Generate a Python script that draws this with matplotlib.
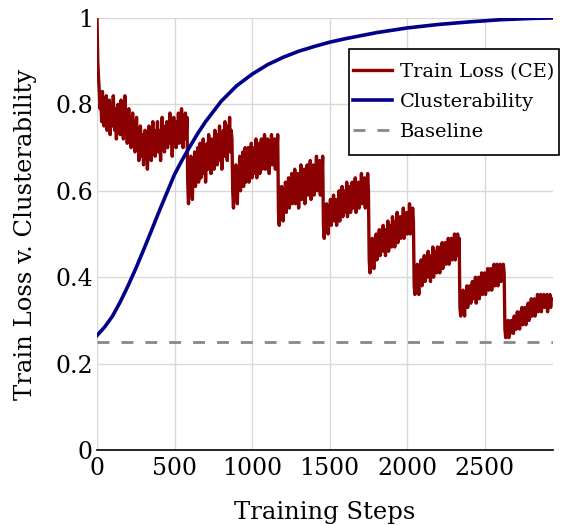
import numpy as np
import matplotlib
matplotlib.use("Agg")
import matplotlib.pyplot as plt

# train loss, one value every 5 steps (one block per epoch)
loss = [
    # epoch 1
    1.00, 0.90, 0.86, 0.83, 0.79, 0.81, 0.76, 0.83, 0.78, 0.75, 0.80, 0.77, 0.82, 0.74, 0.79,
    0.76, 0.81, 0.73, 0.78, 0.80, 0.75, 0.82, 0.77, 0.74, 0.79, 0.72, 0.77, 0.80, 0.75, 0.78,
    0.73, 0.81, 0.76, 0.79, 0.72, 0.77, 0.82, 0.74, 0.78, 0.71, 0.76, 0.79, 0.73, 0.77, 0.70,
    0.75, 0.78, 0.72, 0.76, 0.69, 0.74, 0.77, 0.70, 0.73, 0.67, 0.72, 0.75, 0.69,
    # epoch 2
    0.68, 0.73, 0.66, 0.71, 0.74, 0.68, 0.72, 0.65, 0.70, 0.75, 0.69, 0.73, 0.67, 0.72, 0.76,
    0.70, 0.74, 0.68, 0.73, 0.71, 0.76, 0.69, 0.74, 0.72, 0.67, 0.73, 0.77, 0.71, 0.75, 0.69,
    0.74, 0.72, 0.76, 0.70, 0.75, 0.73, 0.78, 0.71, 0.75, 0.68, 0.74, 0.77, 0.72, 0.75, 0.70,
    0.76, 0.73, 0.78, 0.71, 0.75, 0.72, 0.79, 0.74, 0.70, 0.76, 0.73, 0.78, 0.72, 0.77,
    # epoch 3
    0.62, 0.57, 0.65, 0.60, 0.68, 0.62, 0.58, 0.66, 0.63, 0.69, 0.61, 0.67, 0.64, 0.70, 0.62,
    0.66, 0.71, 0.63, 0.68, 0.65, 0.72, 0.64, 0.69, 0.62, 0.67, 0.71, 0.65, 0.73, 0.66, 0.69,
    0.64, 0.72, 0.67, 0.70, 0.65, 0.74, 0.68, 0.71, 0.66, 0.73, 0.69, 0.75, 0.67, 0.72, 0.65,
    0.70, 0.74, 0.68, 0.76, 0.70, 0.73, 0.67, 0.75, 0.71, 0.77, 0.69, 0.74, 0.72,
    # epoch 4
    0.60, 0.56, 0.64, 0.59, 0.66, 0.61, 0.57, 0.65, 0.62, 0.68, 0.60, 0.66, 0.63, 0.69, 0.61,
    0.65, 0.70, 0.62, 0.67, 0.64, 0.70, 0.62, 0.68, 0.65, 0.71, 0.63, 0.67, 0.64, 0.70, 0.66,
    0.72, 0.63, 0.69, 0.66, 0.71, 0.64, 0.68, 0.72, 0.65, 0.70, 0.67, 0.73, 0.65, 0.69, 0.66,
    0.72, 0.68, 0.64, 0.71, 0.67, 0.73, 0.66, 0.70, 0.68, 0.72, 0.65, 0.71, 0.69, 0.73,
    # epoch 5
    0.55, 0.52, 0.59, 0.54, 0.61, 0.56, 0.53, 0.60, 0.57, 0.62, 0.55, 0.60, 0.58, 0.63, 0.56,
    0.61, 0.59, 0.64, 0.57, 0.62, 0.58, 0.65, 0.57, 0.61, 0.59, 0.64, 0.56, 0.62, 0.60, 0.66,
    0.58, 0.63, 0.60, 0.65, 0.57, 0.62, 0.61, 0.66, 0.59, 0.64, 0.60, 0.67, 0.58, 0.63, 0.61,
    0.66, 0.59, 0.65, 0.62, 0.68, 0.60, 0.64, 0.62, 0.67, 0.59, 0.66, 0.63, 0.68,
    # epoch 6
    0.52, 0.49, 0.55, 0.51, 0.57, 0.53, 0.50, 0.56, 0.54, 0.58, 0.52, 0.57, 0.55, 0.59, 0.53,
    0.56, 0.58, 0.52, 0.57, 0.55, 0.60, 0.53, 0.58, 0.56, 0.61, 0.54, 0.57, 0.55, 0.60, 0.56,
    0.62, 0.54, 0.59, 0.57, 0.61, 0.55, 0.58, 0.62, 0.56, 0.60, 0.57, 0.63, 0.55, 0.59, 0.58,
    0.62, 0.56, 0.61, 0.59, 0.64, 0.57, 0.60, 0.58, 0.63, 0.56, 0.62, 0.59, 0.64, 0.60,
    # epoch 7
    0.44, 0.41, 0.47, 0.43, 0.49, 0.45, 0.42, 0.48, 0.46, 0.50, 0.44, 0.49, 0.47, 0.51, 0.45,
    0.48, 0.50, 0.46, 0.52, 0.47, 0.49, 0.45, 0.51, 0.48, 0.53, 0.46, 0.50, 0.48, 0.52, 0.47,
    0.54, 0.49, 0.51, 0.47, 0.53, 0.50, 0.55, 0.48, 0.52, 0.50, 0.54, 0.49, 0.53, 0.51, 0.56,
    0.49, 0.53, 0.51, 0.55, 0.50, 0.54, 0.52, 0.57, 0.50, 0.55, 0.52, 0.56, 0.53,
    # epoch 8
    0.38, 0.36, 0.41, 0.37, 0.43, 0.39, 0.36, 0.42, 0.40, 0.44, 0.38, 0.43, 0.41, 0.45, 0.39,
    0.42, 0.44, 0.40, 0.46, 0.41, 0.43, 0.39, 0.45, 0.42, 0.47, 0.40, 0.44, 0.42, 0.46, 0.41,
    0.47, 0.43, 0.45, 0.41, 0.47, 0.44, 0.48, 0.42, 0.46, 0.44, 0.48, 0.43, 0.47, 0.45, 0.49,
    0.43, 0.47, 0.45, 0.49, 0.44, 0.48, 0.46, 0.50, 0.44, 0.48, 0.46, 0.50, 0.45, 0.49,
    # epoch 9
    0.33, 0.31, 0.35, 0.32, 0.37, 0.34, 0.31, 0.36, 0.34, 0.38, 0.33, 0.37, 0.35, 0.38, 0.34,
    0.36, 0.39, 0.35, 0.38, 0.36, 0.40, 0.34, 0.38, 0.36, 0.40, 0.35, 0.39, 0.37, 0.41, 0.36,
    0.39, 0.37, 0.41, 0.36, 0.40, 0.38, 0.42, 0.37, 0.40, 0.38, 0.42, 0.37, 0.41, 0.39, 0.43,
    0.38, 0.41, 0.39, 0.43, 0.38, 0.42, 0.40, 0.43, 0.39, 0.42, 0.40, 0.43, 0.41,
    # epoch 10
    0.28, 0.26, 0.29, 0.27, 0.30, 0.26, 0.28, 0.27, 0.30, 0.28, 0.29, 0.27, 0.31, 0.28, 0.30,
    0.28, 0.32, 0.29, 0.31, 0.28, 0.32, 0.30, 0.33, 0.29, 0.31, 0.30, 0.33, 0.29, 0.32, 0.31,
    0.34, 0.30, 0.33, 0.31, 0.35, 0.31, 0.33, 0.32, 0.35, 0.31, 0.34, 0.32, 0.36, 0.32, 0.34,
    0.33, 0.36, 0.32, 0.35, 0.33, 0.36, 0.33, 0.35, 0.34, 0.36, 0.32, 0.35, 0.34, 0.36, 0.33,
    0.35,
]
loss_steps = np.arange(len(loss)) * 5

clust_steps = [0, 50, 100, 150, 200, 250, 300, 350, 400, 450, 500, 550, 600, 650, 700,
               800, 900, 1000, 1100, 1200, 1300, 1400, 1500, 1600, 1800, 2000, 2200,
               2400, 2600, 2800, 2930]
clust = [0.265, 0.285, 0.31, 0.343, 0.38, 0.42, 0.463, 0.507, 0.552, 0.595, 0.638, 0.672,
         0.703, 0.733, 0.76, 0.807, 0.843, 0.870, 0.892, 0.909, 0.923, 0.934, 0.944, 0.952,
         0.966, 0.977, 0.985, 0.991, 0.996, 0.999, 1.0]

baseline = 0.25
xticks = [0, 500, 1000, 1500, 2000, 2500]
yticks = [0, 0.2, 0.4, 0.6, 0.8, 1]
ytick_labels = ["0", "0.2", "0.4", "0.6", "0.8", "1"]

plt.rcParams["font.family"] = "DejaVu Serif"

fig = plt.figure(figsize=(5.67, 5.25), dpi=100)
ax = fig.add_axes([97 / 567, 75 / 525, 456 / 567, 432 / 525])

ax.plot(loss_steps, loss, color="#8b0000", lw=2.4, label="Train Loss (CE)", zorder=3)
ax.plot(clust_steps, clust, color="#00008b", lw=2.6, label="Clusterability", zorder=4)
ax.axhline(baseline, color="#888888", lw=2, dashes=(4.3, 4.3), label="Baseline", zorder=2)

ax.set_xlim(0, 2940)
ax.set_ylim(0, 1)
ax.set_xticks(xticks)
ax.set_yticks(yticks)
ax.set_yticklabels(ytick_labels)
ax.tick_params(axis="x", length=0, labelsize=17, pad=5)
ax.tick_params(axis="y", length=0, labelsize=17, pad=3)
ax.grid(True, color="#d9d9d9", lw=1)
ax.set_axisbelow(True)
for side in ["left", "top", "right"]:
    ax.spines[side].set_visible(False)
ax.spines["bottom"].set_color("black")
ax.spines["bottom"].set_linewidth(1.2)

ax.set_xlabel("Training Steps", fontsize=17.5, labelpad=15)
ax.set_ylabel("Train Loss v. Clusterability", fontsize=17.5, labelpad=13)

leg = ax.legend(loc="upper right", bbox_to_anchor=(1.007, 0.900), borderaxespad=0,
                fontsize=14, fancybox=False, framealpha=1, edgecolor="black",
                handlelength=2.0, handletextpad=0.4, borderpad=0.1, labelspacing=0.62)
leg.get_frame().set_linewidth(1.2)
# frame taller than wide padding, as in the reference
leg.legendPatch.set_boxstyle("square", pad=0.14)
leg.legendPatch.set_mutation_aspect(4.4)

fig.savefig("out.png", dpi=100)
